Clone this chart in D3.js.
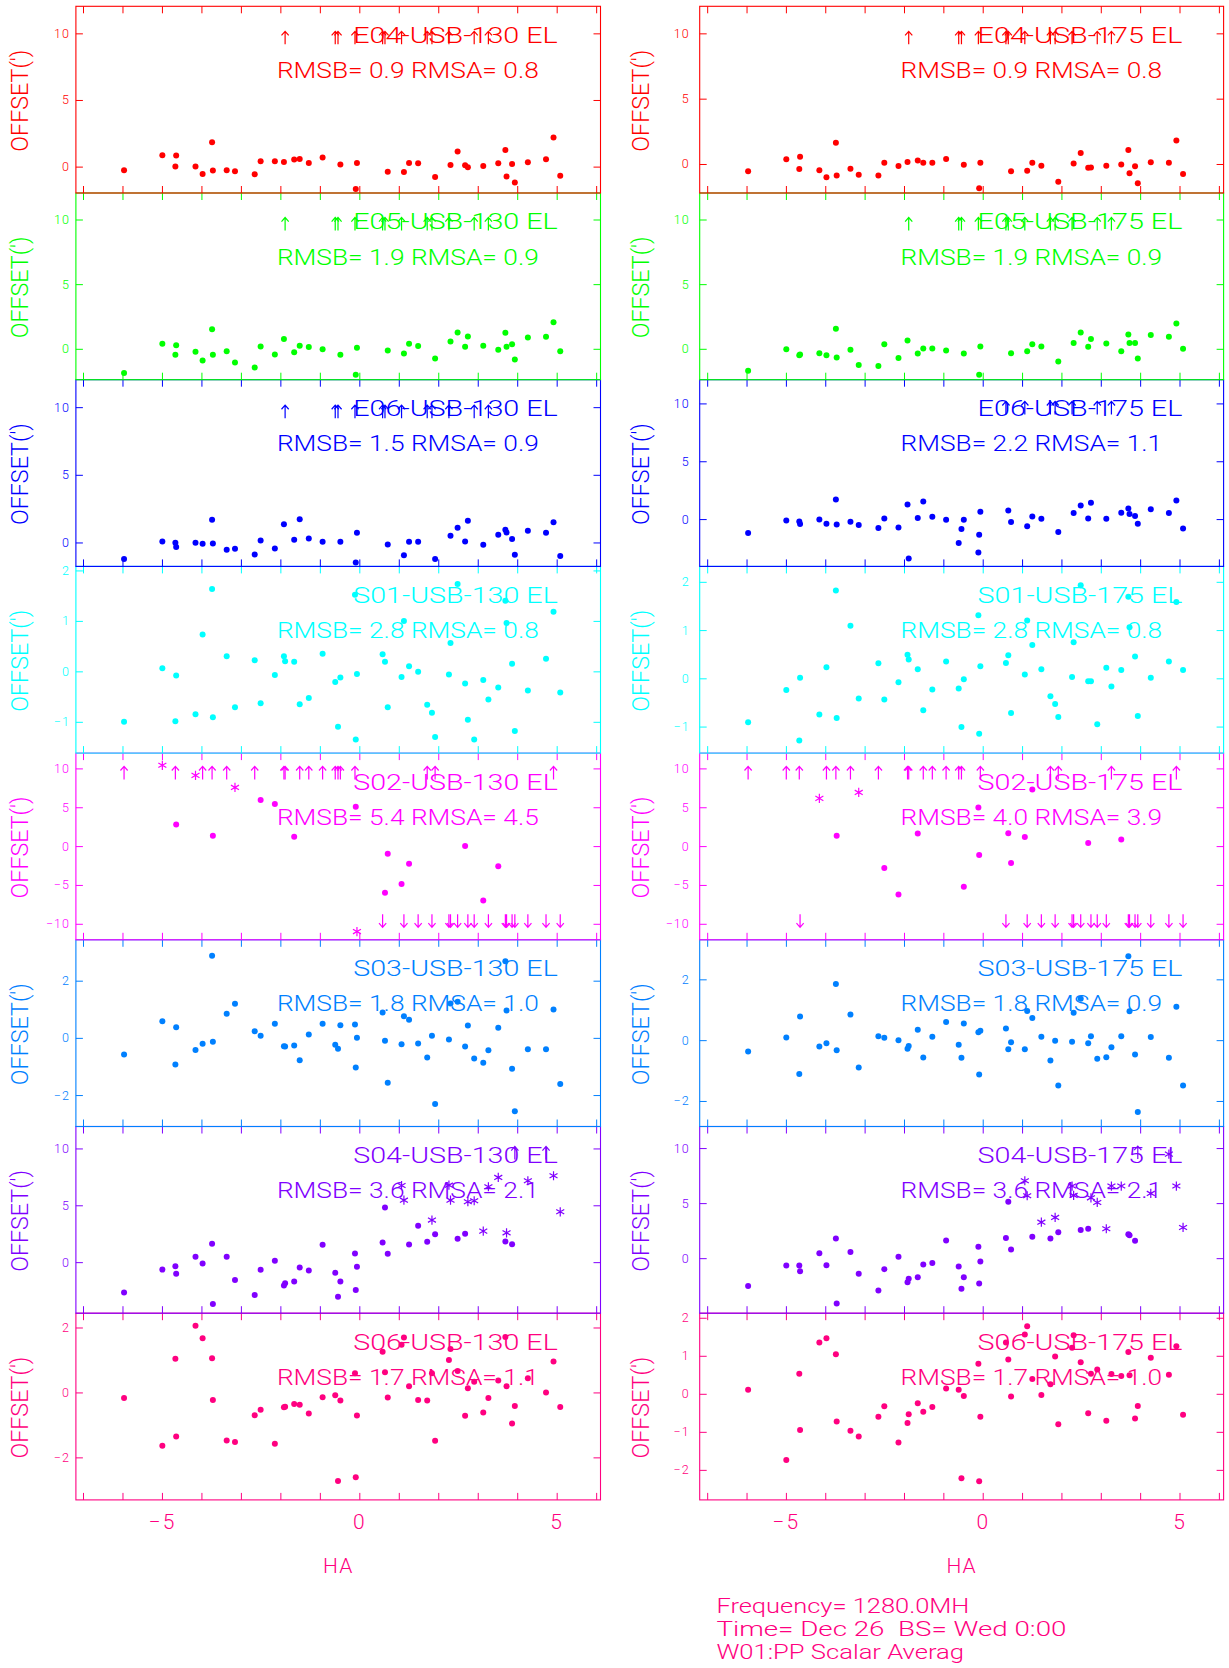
<!DOCTYPE html>
<html><head><meta charset="utf-8">
<script src="https://cdn.jsdelivr.net/npm/d3@7"></script>
<style>
html,body{margin:0;padding:0;background:#fff;}
svg text{font-family:Roboto,"DejaVu Sans",sans-serif;font-weight:300;white-space:pre;}
</style></head><body>
<svg id="c" width="1229" height="1668"></svg>
<script>
// ---------- DATA ----------
const HA = [-5.96,-4.99,-4.66,-4.64,-4.15,-3.97,-3.73,-3.71,-3.36,-3.15,-2.65,-2.50,-2.14,-1.91,-1.88,-1.65,-1.51,-1.28,-0.93,-0.61,-0.54,-0.48,-0.11,-0.09,-0.06,0.59,0.65,0.72,1.07,1.13,1.26,1.49,1.72,1.84,1.92,2.27,2.31,2.49,2.68,2.75,2.91,3.14,3.27,3.52,3.70,3.73,3.87,3.94,4.27,4.73,4.92,5.09];
const XTICKS = [-7,-6,-5,-4,-3,-2,-1,0,1,2,3,4,5,6];
const XLABELS = [-5,0,5];
const STATIONS = ["E04","E05","E06","S01","S02","S03","S04","S06"];
const COLORS = ["#ff0000","#00ff00","#0000ff","#00ffff","#ff00ff","#0080ff","#8000ff","#ff0080"];
const RMS_130 = [["0.9","0.8"],["1.9","0.9"],["1.5","0.9"],["2.8","0.8"],["5.4","4.5"],["1.8","1.0"],["3.6","2.1"],["1.7","1.1"]];
const RMS_175 = [["0.9","0.8"],["1.9","0.9"],["2.2","1.1"],["2.8","0.8"],["4.0","3.9"],["1.8","0.9"],["3.6","2.1"],["1.7","1.0"]];
const YDOM_130 = [[-1.98,12.03],[-2.39,12.05],[-1.77,12.03],[-1.62,2.08],[-12.06,11.97],[-3.10,3.43],[-4.49,11.93],[-3.31,2.44]];
const YDOM_175 = [[-2.22,12.07],[-2.39,12.05],[-4.09,12.05],[-1.55,2.32],[-12.06,11.97],[-2.84,3.30],[-5.0,11.96],[-2.79,2.12]];
const YTICKS_130 = [[0,5,10],[0,5,10],[0,5,10],[-1,0,1,2],[-10,-5,0,5,10],[-2,0,2],[0,5,10],[-2,0,2]];
const YTICKS_175 = [[0,5,10],[0,5,10],[0,5,10],[-1,0,1,2],[-10,-5,0,5,10],[-2,0,2],[0,5,10],[-2,-1,0,1,2]];

const _ = null;
const E04_130 = [-0.28,0.85,0.0,0.83,0.0,-0.55,1.83,-0.3,-0.28,-0.35,-0.58,0.4,0.4,0.35,_,0.53,0.58,0.28,0.68,_,_,0.15,_,-1.68,0.28,_,_,-0.38,_,-0.4,0.28,0.25,_,_,-0.78,_,0.13,1.13,0.1,-0.05,_,0.05,_,0.25,1.25,-0.75,0.2,-1.2,0.33,0.55,2.18,-0.68];
const E04_175 = [-0.56,0.36,-0.38,0.56,-0.48,-1.02,1.63,-0.89,-0.36,-0.82,-0.89,0.1,-0.15,0.15,_,0.26,0.1,0.1,0.38,_,_,-0.05,_,-1.86,0.1,_,_,-0.56,_,-0.51,0.1,-0.13,_,_,-1.35,_,0.03,0.84,-0.28,-0.26,_,-0.13,_,-0.03,1.07,-0.71,-0.18,-1.48,0.13,0.1,1.79,-0.77];
const E05_130 = [-1.88,0.39,-0.46,0.28,-0.23,-0.9,1.52,-0.46,-0.18,-1.06,-1.44,0.18,-0.44,0.75,_,-0.26,0.23,0.13,-0.03,_,_,-0.46,_,-2.01,0.08,_,_,-0.13,_,-0.36,0.39,0.21,_,_,-0.75,_,0.57,1.26,0.15,0.95,_,0.23,_,-0.08,1.24,0.15,0.36,-0.82,0.88,0.93,2.06,-0.18];
const E05_175 = [-1.7,-0.03,-0.49,-0.45,-0.34,-0.49,1.55,-0.67,-0.08,-1.26,-1.34,0.36,-0.72,0.64,_,-0.36,0.03,0.03,-0.13,_,_,-0.36,_,-2.01,0.18,_,_,-0.34,_,-0.18,0.36,0.18,_,_,-0.98,_,0.44,1.26,0.15,0.75,_,0.41,_,-0.18,1.11,0.44,0.44,-0.75,1.06,0.93,1.96,0.0];
const E06_130 = [-1.23,0.07,-0.02,-0.34,-0.02,-0.1,1.67,-0.07,-0.54,-0.47,-0.89,0.15,-0.44,1.35,_,0.2,1.72,0.3,0.05,_,_,0.05,_,-1.48,0.71,_,_,-0.15,_,-0.94,0.05,0.05,_,_,-1.23,_,0.49,1.08,0.07,1.6,_,-0.17,_,0.57,0.94,0.74,0.25,-0.91,0.86,0.71,1.5,-1.01];
const E06_175 = [-1.21,-0.12,-0.2,-0.43,-0.03,-0.4,1.7,-0.46,-0.23,-0.52,-0.78,0.06,-0.72,1.27,-3.4,0.09,1.53,0.2,-0.06,-2.07,-0.86,-0.06,-2.88,-1.35,0.63,_,0.75,-0.26,_,-0.61,0.23,0.03,_,_,-1.12,_,0.52,1.18,0.06,1.41,_,0.03,_,0.55,0.92,0.43,0.26,-0.4,0.86,0.52,1.61,-0.81];
const S01_130 = [-1.0,0.06,-0.99,-0.08,-0.85,0.73,1.63,-0.91,0.3,-0.71,0.22,-0.63,-0.07,0.3,0.2,0.19,-0.65,-0.53,0.35,-0.21,-1.1,-0.12,1.52,-1.35,-0.05,0.34,0.19,-0.71,-0.11,1.0,0.1,-0.01,-0.66,-0.82,-1.3,-0.06,0.56,1.73,-0.24,-0.96,-1.35,-0.17,-0.56,-0.32,1.4,0.96,0.15,-1.18,-0.38,0.25,1.18,-0.42];
const S01_175 = [-0.91,-0.24,-1.29,0.01,-0.75,0.23,1.82,-0.82,1.09,-0.42,0.31,-0.44,-0.08,0.49,0.39,0.19,-0.66,-0.23,0.35,-0.21,-1.01,-0.02,1.31,-1.15,0.25,0.32,0.48,-0.72,0.08,1.2,0.69,0.19,-0.37,-0.53,-0.8,0.03,0.75,1.93,-0.06,-0.06,-0.95,0.22,-0.17,0.17,1.69,1.06,0.45,-0.78,0.01,0.35,1.58,0.17];
const S02_130 = [_,_,_,2.79,_,_,_,1.33,_,_,_,5.92,5.41,_,_,1.2,_,_,_,_,_,_,_,5.06,_,_,-6.0,-0.99,-4.89,_,-2.27,_,_,_,_,_,_,_,0.0,_,_,-7.0,_,-2.58,_,_,_,_,_,_,_,_];
const S02_175 = [_,_,_,_,_,_,_,1.33,_,_,_,-2.83,-6.22,_,_,1.63,_,_,_,_,_,-5.24,4.98,-1.16,_,_,1.67,-2.19,1.16,_,7.3,_,_,_,_,_,_,_,0.39,_,_,_,_,0.86,_,_,_,_,_,_,_,_];
const S03_130 = [-0.58,0.58,-0.93,0.37,-0.42,-0.21,2.87,-0.14,0.84,1.19,0.23,0.07,0.49,-0.29,-0.3,-0.27,-0.78,0.12,0.49,-0.24,-0.38,0.44,0.47,-1.04,0.0,0.89,-0.1,-1.57,-0.22,0.76,0.63,-0.2,-0.69,0.07,-2.31,-0.06,1.2,1.26,-0.3,0.43,-0.72,-0.87,-0.43,0.35,2.68,0.96,-1.08,-2.57,-0.4,-0.4,0.99,-1.61];
const S03_175 = [-0.37,0.09,-1.11,0.78,-0.21,-0.1,1.85,-0.33,0.84,-0.9,0.13,0.08,0.0,-0.28,-0.19,0.34,-0.57,0.11,0.6,-0.15,-0.58,0.55,0.26,-1.13,0.31,0.38,-0.3,-0.07,-0.3,0.96,0.73,0.11,-0.67,-0.02,-1.49,-0.05,0.9,1.36,-0.1,0.13,-0.61,-0.56,-0.23,0.13,2.76,0.95,-0.47,-2.36,0.1,-0.58,1.1,-1.49];
const S04_130 = [-2.67,-0.65,-0.35,-1.03,0.47,-0.12,1.61,-3.67,0.47,-1.58,-2.9,-0.67,0.12,-2.05,-1.85,-1.7,-0.47,-0.73,1.52,-0.94,-3.05,-1.7,0.76,-2.46,-0.41,1.73,4.81,0.73,_,_,1.55,3.2,1.79,_,2.46,_,_,2.05,2.49,_,_,_,_,_,1.82,_,1.58,_,_,_,_,_];
const S04_175 = [-2.52,-0.67,-0.67,-1.18,0.45,-0.64,1.79,-4.12,0.55,-1.42,-2.94,-1.0,0.12,-2.18,-1.88,-1.73,-0.58,-0.45,1.61,-0.76,-2.79,-1.73,1.03,-2.3,-0.3,1.82,5.12,0.79,_,_,1.94,_,1.79,_,2.36,_,_,2.55,2.67,_,_,_,_,_,2.18,2.09,1.58,_,_,_,_,_];
const S06_130 = [-0.17,-1.64,1.04,-1.36,2.05,1.67,1.05,-0.23,-1.48,-1.53,-0.7,-0.53,-1.58,-0.46,-0.44,-0.36,-0.38,-0.65,-0.15,-0.09,-2.73,-0.25,0.59,-2.61,-0.71,1.25,0.62,-0.16,1.47,1.69,0.19,-0.23,-0.25,0.59,-1.49,1.0,1.34,0.66,-0.72,0.13,0.33,-0.62,-0.17,0.37,1.71,0.19,-0.96,-0.42,0.44,0.0,0.95,-0.45];
const S06_175 = [0.11,-1.74,0.53,-0.95,1.35,1.46,1.04,-0.73,-0.97,-1.12,-0.6,-0.33,-1.28,-0.77,-0.54,-0.25,-0.47,-0.35,0.14,0.11,-2.22,-0.06,0.79,-2.3,-0.6,1.35,0.9,-0.07,1.56,1.78,0.39,-0.03,0.25,0.98,-0.8,1.21,1.54,0.83,-0.51,0.53,0.64,-0.71,0.52,0.47,1.1,0.49,-0.65,-0.32,0.95,0.5,1.25,-0.55];

// asterisk (flagged) points: [HA index, value]
const S02_130_star = [[1,10.4],[4,9.1],[9,7.55],[24,-11.0]];
const S02_175_star = [[4,6.14],[9,6.91]];
const S04_130_star = [[28,6.74],[29,5.45],[33,3.7],[35,6.77],[36,5.45],[39,5.31],[40,5.4],[41,2.73],[42,6.63],[43,7.45],[45,2.58],[48,7.16],[50,7.6],[51,4.43]];
const S04_175_star = [[28,7.03],[29,5.67],[31,3.27],[33,3.7],[35,6.55],[36,5.7],[39,5.48],[40,5.06],[41,2.67],[42,6.55],[43,6.55],[48,5.88],[49,9.45],[50,6.55],[51,2.79]];
// off-scale points (HA indices): up arrows at +10, down arrows at -10
const E_UP = [14,19,20,22,25,26,28,32,33,35,40,42];
const E06_175_up = [25,28,32,33,35,40,42];
const S02_130_up = [0,2,5,6,8,10,13,14,16,17,18,19,20,21,22,32,34,50];
const S02_130_down = [25,29,31,33,35,36,37,39,40,42,44,45,46,47,48,49,51];
const S02_175_up = [0,1,2,5,6,8,10,13,14,16,17,18,19,20,24,32,34,42,50];
const S02_175_down = [3,25,29,31,33,35,36,37,39,40,41,44,45,46,47,48,49,51];
const S04_130_up = [47,49];
const S04_175_up = [47];

const FOOTER = ["Frequency= 1280.0MH","Time= Dec 26  BS= Wed 0:00","W01:PP Scalar Averag"];

// ---------- LAYOUT ----------
const svg = d3.select("#c");
const PT = 6.3, PH = 186.7;
const cols = [
  {freq:"130", x0:75.9, x1:600.5, xd:[-7.18,6.11], lbl:[353.2,557.8], rms:[276.9,538.8], titleX:19.8, pad:6,
   dom:YDOM_130, ticks:YTICKS_130, rmsv:RMS_130,
   dots:[E04_130,E05_130,E06_130,S01_130,S02_130,S03_130,S04_130,S06_130],
   stars:[[],[],[],[],S02_130_star,[],S04_130_star,[]],
   up:[E_UP,E_UP,E_UP,[],S02_130_up,[],S04_130_up,[]],
   down:[[],[],[],[],S02_130_down,[],[],[]]},
  {freq:"175", x0:699.7, x1:1223.6, xd:[-7.19,6.12], lbl:[977.6,1182.4], rms:[900.6,1162.2], titleX:641.4, pad:10,
   dom:YDOM_175, ticks:YTICKS_175, rmsv:RMS_175,
   dots:[E04_175,E05_175,E06_175,S01_175,S02_175,S03_175,S04_175,S06_175],
   stars:[[],[],[],[],S02_175_star,[],S04_175_star,[]],
   up:[E_UP,E_UP,E06_175_up,[],S02_175_up,[],S04_175_up,[]],
   down:[[],[],[],[],S02_175_down,[],[],[]]}
];

const upPath = "M0,-6.5V6.5M-3.6,-2.4L0,-6.5L3.6,-2.4";
const downPath = "M0,6.5V-6.5M-3.6,2.4L0,6.5L3.6,2.4";
const starPath = "M0,-4.6V4.6M-4,-2.3L4,2.3M-4,2.3L4,-2.3";
const fmt = d3.format("d");

cols.forEach(c => {
  const x = d3.scaleLinear().domain(c.xd).range([c.x0, c.x1]);
  for (let i = STATIONS.length - 1; i >= 0; i--) {
    const top = PT + i*PH, bot = top + PH;
    const col = COLORS[i];
    const y = d3.scaleLinear().domain(c.dom[i]).range([bot, top]);
    const g = svg.append("g").attr("color", col).attr("fill", col);

    const ax = (sel) => { sel.select(".domain").remove(); sel.attr("font-family", null); };
    g.append("g").attr("transform", `translate(${c.x0},0)`)
      .call(d3.axisLeft(y).tickValues(c.ticks[i]).tickSize(-7).tickPadding(c.pad).tickFormat(fmt))
      .call(ax).attr("font-size", 12.5).attr("letter-spacing", 1);
    g.append("g").attr("transform", `translate(${c.x1},0)`)
      .call(d3.axisRight(y).tickValues(c.ticks[i]).tickSize(-7).tickFormat(() => ""))
      .call(ax);
    g.append("g").attr("transform", `translate(0,${top})`)
      .call(d3.axisTop(x).tickValues(XTICKS).tickSize(-7).tickFormat(() => ""))
      .call(ax);
    const last = i === STATIONS.length - 1;
    g.append("g").attr("transform", `translate(0,${bot})`)
      .call(d3.axisBottom(x).tickValues(XTICKS).tickSize(-7).tickPadding(14)
        .tickFormat(d => (last && XLABELS.includes(d)) ? fmt(d) : ""))
      .call(ax).attr("font-size", 21).attr("letter-spacing", 2);

    g.append("rect").attr("x", c.x0).attr("y", top).attr("width", c.x1 - c.x0).attr("height", PH)
      .attr("fill", "none").attr("stroke", col).attr("stroke-width", 1.1);

    g.append("text").attr("transform", `translate(${c.titleX + 8},${top + PH/2 + 1}) rotate(-90)`)
      .attr("text-anchor", "middle").attr("font-size", 24)
      .attr("textLength", 102).attr("lengthAdjust", "spacingAndGlyphs")
      .text("OFFSET(')");

    g.append("text").attr("x", c.lbl[0]).attr("y", top + 36.4).attr("font-size", 22.5)
      .attr("textLength", c.lbl[1] - c.lbl[0]).attr("lengthAdjust", "spacingAndGlyphs")
      .text(`${STATIONS[i]}-USB-${c.freq} EL`);
    g.append("text").attr("x", c.rms[0]).attr("y", top + 71.5).attr("font-size", 22.5)
      .attr("textLength", c.rms[1] - c.rms[0]).attr("lengthAdjust", "spacingAndGlyphs")
      .text(`RMSB= ${c.rmsv[i][0]} RMSA= ${c.rmsv[i][1]}`);

    const pts = c.dots[i].map((v, k) => [HA[k], v]).filter(d => d[1] !== null);
    g.selectAll("circle.p").data(pts).join("circle")
      .attr("cx", d => x(d[0])).attr("cy", d => y(d[1])).attr("r", 3).attr("fill", col);
    g.selectAll("path.s").data(c.stars[i]).join("path")
      .attr("transform", d => `translate(${x(HA[d[0]])},${y(d[1])})`)
      .attr("d", starPath).attr("stroke", col).attr("stroke-width", 1.2).attr("fill", "none");
    g.selectAll("path.u").data(c.up[i]).join("path")
      .attr("transform", d => `translate(${x(HA[d])},${y(10) + 4.5})`)
      .attr("d", upPath).attr("stroke", col).attr("stroke-width", 1.2).attr("fill", "none");
    g.selectAll("path.d").data(c.down[i]).join("path")
      .attr("transform", d => `translate(${x(HA[d])},${y(-10) - 3})`)
      .attr("d", downPath).attr("stroke", col).attr("stroke-width", 1.2).attr("fill", "none");
  }
  svg.append("text").attr("x", (c.x0 + c.x1)/2).attr("y", 1573).attr("text-anchor", "middle")
    .attr("font-size", 21).attr("letter-spacing", 1).attr("fill", COLORS[7]).text("HA");
});

const fw = [253, 350, 247.6];
svg.selectAll("text.foot").data(FOOTER).join("text")
  .attr("x", 716.4).attr("y", (d, k) => 1613 + k*23)
  .attr("font-size", 21).attr("fill", COLORS[7])
  .attr("textLength", (d, k) => fw[k]).attr("lengthAdjust", "spacingAndGlyphs")
  .text(d => d);
</script>
</body></html>
